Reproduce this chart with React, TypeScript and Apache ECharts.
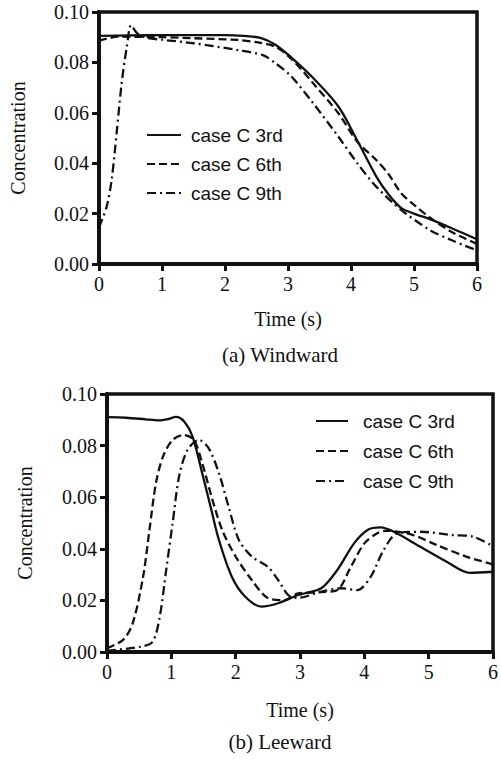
import React, { useEffect, useRef } from "react";
import * as echarts from "echarts";

// ---------- Data ----------
const seriesNames = ["case C 3rd", "case C 6th", "case C 9th"];
const xTicks = [0, 1, 2, 3, 4, 5, 6];

// (a) Windward
const winTime3 = [0, 0.5, 1, 1.5, 2, 2.3, 2.55, 2.8, 3.05, 3.4, 3.8, 4.1, 4.4, 4.6, 4.8, 5.0, 5.25, 5.6, 6.0];
const win3 = [0.0905, 0.0907, 0.0908, 0.0908, 0.0908, 0.0905, 0.0898, 0.087, 0.082, 0.0738, 0.0625, 0.049, 0.0348, 0.0275, 0.0222, 0.02, 0.0178, 0.0142, 0.0098];

const winTime6 = [0, 0.3, 1, 1.5, 2.2, 2.5, 2.8, 3.05, 3.4, 3.8, 4.1, 4.4, 4.6, 4.8, 5.0, 5.25, 5.6, 6.0];
const win6 = [0.0885, 0.0902, 0.09, 0.0896, 0.0889, 0.088, 0.0862, 0.0815, 0.0717, 0.0598, 0.0485, 0.0413, 0.0355, 0.028, 0.0235, 0.0185, 0.0127, 0.008];

const winTime9 = [0, 0.12, 0.2, 0.28, 0.36, 0.44, 0.51, 0.6, 0.75, 1.0, 1.5, 2.2, 2.6, 2.8, 3.05, 3.4, 3.8, 4.1, 4.4, 4.8, 5.25, 5.6, 6.0];
const win9 = [0.0145, 0.0226, 0.0333, 0.052, 0.0718, 0.086, 0.0948, 0.0917, 0.0898, 0.089, 0.0876, 0.0849, 0.0829, 0.0797, 0.0745, 0.0638, 0.0505, 0.04, 0.0307, 0.0214, 0.0135, 0.0094, 0.0054];

// (b) Leeward
const leeTime3 = [0, 0.3, 0.6, 0.8, 0.95, 1.07, 1.2, 1.33, 1.48, 1.61, 1.74, 1.94, 2.15, 2.4, 2.66, 2.97, 3.33, 3.58, 3.84, 4.05, 4.25, 4.46, 4.87, 5.28, 5.64, 6.0];
const lee3 = [0.091, 0.0908, 0.0902, 0.0898, 0.0903, 0.0911, 0.0893, 0.0835, 0.0693, 0.0563, 0.0434, 0.0292, 0.0214, 0.0176, 0.0189, 0.0221, 0.0247, 0.0318, 0.0421, 0.0473, 0.0483, 0.0466, 0.0408, 0.035, 0.0307, 0.0311];

const leeTime6 = [0, 0.25, 0.4, 0.56, 0.66, 0.76, 0.87, 1.02, 1.2, 1.35, 1.48, 1.64, 1.79, 2.0, 2.25, 2.5, 2.76, 2.97, 3.33, 3.58, 3.79, 4.0, 4.2, 4.35, 4.76, 5.12, 5.58, 6.0];
const lee6 = [0.0015, 0.0047, 0.0112, 0.029, 0.0473, 0.0654, 0.0757, 0.0822, 0.0841, 0.0822, 0.0732, 0.0589, 0.0473, 0.037, 0.0279, 0.0209, 0.0201, 0.0227, 0.0232, 0.024, 0.033, 0.0421, 0.046, 0.047, 0.0453, 0.0415, 0.037, 0.034];

const leeTime9 = [0, 0.51, 0.71, 0.82, 0.92, 1.02, 1.12, 1.25, 1.43, 1.58, 1.74, 1.89, 2.05, 2.25, 2.5, 2.66, 2.82, 2.97, 3.33, 3.64, 3.89, 4.1, 4.3, 4.51, 4.87, 5.38, 5.69, 6.0];
const lee9 = [0.0005, 0.002, 0.004, 0.0137, 0.0318, 0.0499, 0.068, 0.0783, 0.0822, 0.079, 0.0693, 0.0563, 0.0434, 0.037, 0.033, 0.0279, 0.022, 0.021, 0.0234, 0.0247, 0.024, 0.0292, 0.0395, 0.046, 0.0466, 0.0453, 0.0447, 0.041];

const toPairs = (ts: number[], vs: number[]) => ts.map((t, i) => [t, vs[i]]);

const SERIF = "Liberation Serif";
const SANS = "Liberation Sans";
const INK = "#111";

const dashTypes: any[] = ["solid", [8, 4], [9, 4, 2, 4]];

function makeXAxis(gridIndex: number, nameGap: number) {
  return {
    type: "value",
    gridIndex,
    min: 0,
    max: 6,
    interval: 1,
    name: "Time (s)",
    nameLocation: "middle",
    nameGap,
    nameTextStyle: { fontFamily: SERIF, fontSize: 20, color: INK },
    axisLine: { show: true, onZero: false, lineStyle: { color: INK, width: 4 } },
    axisTick: { show: true, length: 7, lineStyle: { color: INK, width: 3 } },
    axisLabel: {
      color: INK,
      fontFamily: SERIF,
      fontSize: 20,
      margin: 10,
      formatter: (v: number) => (xTicks.includes(v) ? String(v) : ""),
    },
    splitLine: { show: false },
  };
}

function makeYAxis(gridIndex: number, nameGap: number) {
  return {
    type: "value",
    gridIndex,
    min: 0,
    max: 0.1,
    interval: 0.02,
    name: "Concentration",
    nameLocation: "middle",
    nameGap,
    nameRotate: 90,
    nameTextStyle: { fontFamily: SERIF, fontSize: 20, color: INK },
    axisLine: { show: true, onZero: false, lineStyle: { color: INK, width: 4 } },
    axisTick: { show: true, length: 7, lineStyle: { color: INK, width: 3 } },
    axisLabel: {
      color: INK,
      fontFamily: SERIF,
      fontSize: 20,
      margin: 10,
      formatter: (v: number) => v.toFixed(2),
    },
    splitLine: { show: false },
  };
}

function makeSeries(idx: number, axis: number, data: number[][]) {
  return {
    name: seriesNames[idx],
    type: "line",
    xAxisIndex: axis,
    yAxisIndex: axis,
    data,
    symbol: "none",
    smooth: 0.3,
    itemStyle: { color: INK },
    lineStyle: { color: INK, width: 2.3, type: dashTypes[idx] },
  };
}

function makeLegend(left: number, top: number, itemWidth: number, itemGap: number, textPad: number) {
  return {
    data: seriesNames,
    orient: "vertical",
    left,
    top,
    itemWidth,
    itemHeight: 14,
    itemGap,
    selectedMode: false,
    itemStyle: { opacity: 0, borderWidth: 0 },
    textStyle: { fontFamily: SANS, fontSize: 19, color: INK, lineHeight: 20, padding: [0, 0, 0, textPad] },
  };
}

export default function App() {
  const ref = useRef<HTMLDivElement>(null);

  useEffect(() => {
    if (!ref.current) return;
    const chart = echarts.init(ref.current, undefined, { renderer: "svg" });
    const option: any = {
      animation: false,
      backgroundColor: "#fff",
      grid: [
        { left: 99, top: 12, width: 378, height: 252, show: true, borderColor: INK, borderWidth: 3.5, backgroundColor: "transparent" },
        { left: 107, top: 394, width: 390, height: 258, show: true, borderColor: INK, borderWidth: 3.5, backgroundColor: "transparent" },
      ],
      xAxis: [makeXAxis(0, 45), makeXAxis(1, 48)],
      yAxis: [makeYAxis(0, 71), makeYAxis(1, 72)],
      legend: [makeLegend(141, 120, 34, 9, 5), makeLegend(310, 406, 32, 10, 10)],
      graphic: [
        { type: "text", x: 280, y: 355, style: { text: "(a) Windward", fontFamily: SERIF, fontSize: 21, fill: INK, textAlign: "center", textVerticalAlign: "middle" } },
        { type: "text", x: 280, y: 742, style: { text: "(b) Leeward", fontFamily: SERIF, fontSize: 21, fill: INK, textAlign: "center", textVerticalAlign: "middle" } },
      ],
      series: [
        makeSeries(0, 0, toPairs(winTime3, win3)),
        makeSeries(1, 0, toPairs(winTime6, win6)),
        makeSeries(2, 0, toPairs(winTime9, win9)),
        makeSeries(0, 1, toPairs(leeTime3, lee3)),
        makeSeries(1, 1, toPairs(leeTime6, lee6)),
        makeSeries(2, 1, toPairs(leeTime9, lee9)),
      ],
    };
    chart.setOption(option);
    return () => chart.dispose();
  }, []);

  return <div ref={ref} style={{ position: "absolute", left: 0, top: 0, width: 501, height: 759 }} />;
}
